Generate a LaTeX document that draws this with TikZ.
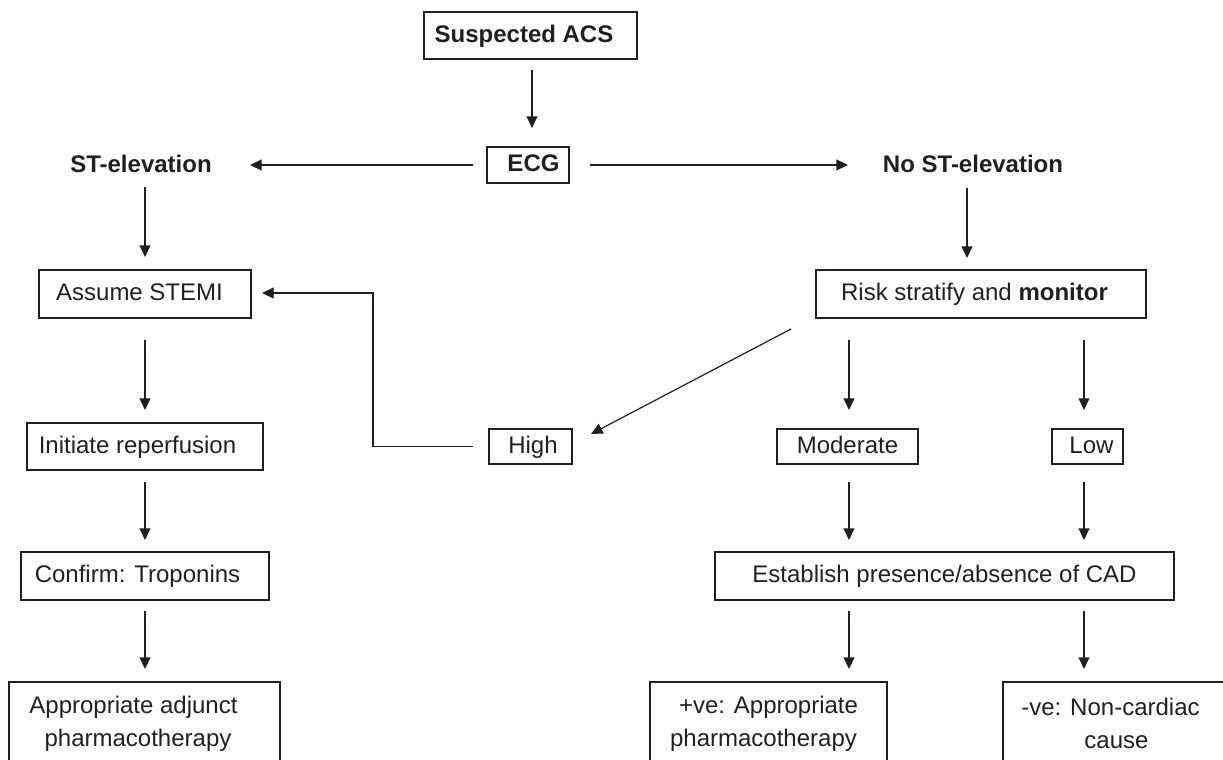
\documentclass[tikz,border=0pt]{standalone}
\usepackage{fontspec}
\setmainfont{Liberation Sans}
\usetikzlibrary{arrows.meta}
\definecolor{ink}{HTML}{231F20}
\begin{document}
\begin{tikzpicture}[x=0.5pt,y=-0.5pt,
  box/.style={draw=ink,line width=0.65pt,text=ink,font=\fontsize{12}{16.5}\selectfont,inner sep=0pt},
  one/.style={text height=8.6pt,text depth=1.8pt},
  lbl/.style={text=ink,font=\fontsize{12}{14}\selectfont\bfseries,inner sep=0pt,text height=8.6pt,text depth=0pt},
  arr/.style={draw=ink,line width=0.6pt,-{Triangle[length=5.8pt,width=5.4pt]}}]
\useasboundingbox (0,0) rectangle (1223,760);
\clip (0,0) rectangle (1223,760);

\node[box,one,minimum width=106.5pt,minimum height=23.5pt] (acs) at (530.5,35.5) {\bfseries Suspected ACS\kern6.5pt};
\node[box,one,minimum width=41pt,minimum height=18pt] (ecg) at (528,165) {\kern5.5pt\bfseries ECG};
\node[lbl] (ste) at (145,163.5) {ST-elevation\kern4pt};
\node[lbl] (noste) at (967,163.5) {\kern6pt No ST-elevation};
\node[box,one,minimum width=106pt,minimum height=24pt] (stemi) at (145,294) {Assume STEMI\kern5.5pt};
\node[box,one,minimum width=118pt,minimum height=23.5pt] (reperf) at (145,446.5) {Initiate reperfusion\kern7.5pt};
\node[box,one,minimum width=124pt,minimum height=24pt] (trop) at (145,576) {Confirm: Troponins\kern7.5pt};
\node[box,align=center,minimum width=135.5pt,minimum height=41.5pt] (adj) at (144.5,723.5) {\hbox{Appropriate adjunct\kern11pt}\\\hbox{pharmacotherapy\kern6.5pt}};
\node[box,one,minimum width=165pt,minimum height=24pt] (risk) at (981,294) {Risk stratify and \textbf{monitor}\kern6.5pt};
\node[box,one,minimum width=41.5pt,minimum height=17.5pt] (high) at (530.5,446.5) {\kern2.5pt High};
\node[box,one,minimum width=70.5pt,minimum height=17.5pt] (mod) at (847.5,446.5) {Moderate};
\node[box,one,minimum width=35.5pt,minimum height=17.5pt] (low) at (1087.5,446.5) {\kern4pt Low};
\node[box,one,minimum width=229.5pt,minimum height=24pt] (cad) at (944.5,576) {Establish presence/absence of CAD};
\node[box,align=center,minimum width=118.5pt,minimum height=41.5pt] (pos) at (768.5,723.5) {\hbox{+ve: Appropriate}\\\hbox{pharmacotherapy\kern5pt}};
\node[box,align=center,minimum width=113.5pt,minimum height=41.5pt] (neg) at (1116.5,723.5) {\hbox{-ve: Non-cardiac\kern6pt}\\\hbox{cause}};

\draw[arr] ([xshift=0.75pt,yshift=-17.25pt]acs.center) -- ([xshift=2pt,yshift=18.5pt]ecg.center);
\draw[arr] ([xshift=-27.5pt]ecg.center) -- ([xshift=52.5pt,yshift=-0.75pt]ste.center);
\draw[arr] ([xshift=31pt]ecg.center) -- ([xshift=-59.5pt,yshift=-0.75pt]noste.center);
\draw[arr] ([yshift=-11.75pt]ste.center) -- ([yshift=18.5pt]stemi.center);
\draw[arr] ([yshift=-12.25pt]noste.center) -- ([xshift=-7pt,yshift=18pt]risk.center);
\draw[arr] ([yshift=-23pt]stemi.center) -- ([yshift=18.25pt]reperf.center);
\draw[arr] ([yshift=-17.75pt]reperf.center) -- ([yshift=18pt]trop.center);
\draw[arr] ([yshift=-17.5pt]trop.center) -- ([xshift=0.25pt,yshift=27.25pt]adj.center);
\draw[arr] ([xshift=-95pt,yshift=-17.5pt]risk.center) -- ([xshift=30.25pt,yshift=6.25pt]high.center);
\draw[arr] ([xshift=-66pt,yshift=-23pt]risk.center) -- ([xshift=0.75pt,yshift=18.25pt]mod.center);
\draw[arr] ([xshift=51.5pt,yshift=-23pt]risk.center) -- ([xshift=-1.75pt,yshift=18.25pt]low.center);
\draw[arr] ([xshift=0.75pt,yshift=-17.75pt]mod.center) -- ([xshift=-47.75pt,yshift=18pt]cad.center);
\draw[arr] ([xshift=-1.75pt,yshift=-17.75pt]low.center) -- ([xshift=69.75pt,yshift=18pt]cad.center);
\draw[arr] ([xshift=-47.75pt,yshift=-17.5pt]cad.center) -- ([xshift=40.25pt,yshift=27.25pt]pos.center);
\draw[arr] ([xshift=69.75pt,yshift=-17.5pt]cad.center) -- ([xshift=-16.25pt,yshift=27.25pt]neg.center);
\coordinate (fb) at (373,293);
\draw[arr] ([xshift=-28.75pt]high.center) -| (fb) -- ([xshift=58.5pt,yshift=0.5pt]stemi.center);
\end{tikzpicture}
\end{document}
